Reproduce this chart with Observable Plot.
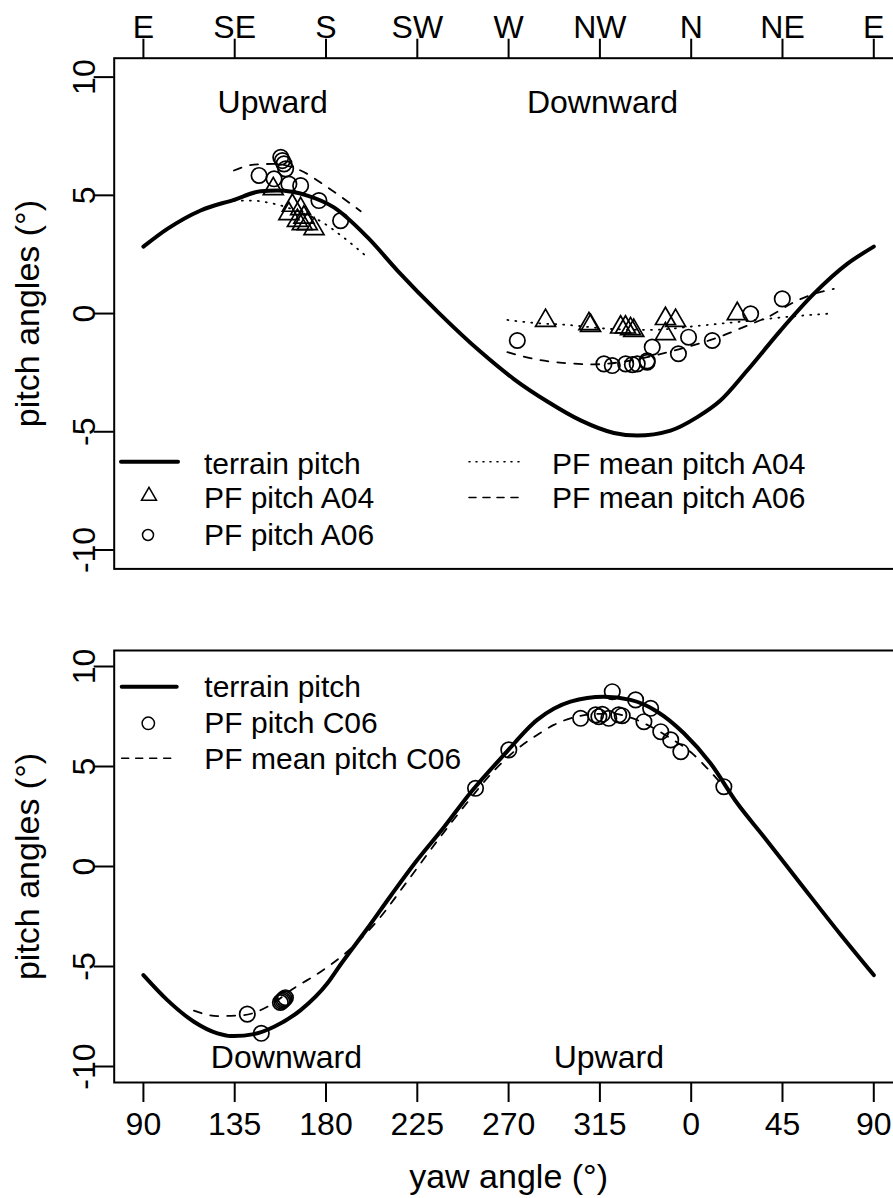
<!DOCTYPE html>
<html><head><meta charset="utf-8">
<script src="https://cdn.jsdelivr.net/npm/d3@7"></script>
<script src="https://cdn.jsdelivr.net/npm/@observablehq/plot@0.6"></script>
<style>
html,body{margin:0;padding:0;background:#fff;width:893px;height:1198px;overflow:hidden;}
#wrap{position:relative;width:893px;height:1198px;overflow:hidden;}
#wrap svg{position:absolute;left:0;display:block;max-width:none !important;}
</style></head><body><div id="wrap"></div>
<script>
// ---------- data ----------
const xTicks = [90, 135, 180, 225, 270, 315, 360, 405, 450];
const compassLabels = ["E", "SE", "S", "SW", "W", "NW", "N", "NE", "E"];
const yawLabels = ["90", "135", "180", "225", "270", "315", "0", "45", "90"];
const yTicks = [-10, -5, 0, 5, 10];
const yTitle = "pitch angles (°)";
const xTitle = "yaw angle (°)";

// top panel (A04 / A06)
const terrainTop = [[90,2.83],[101.8,3.58],[118.2,4.36],[134.6,4.81],[147.8,5.17],[156,5.2],[170.8,4.99],[183.9,4.49],[200.4,3.23],[215.2,1.82],[235.7,0.02],[256.2,-1.62],[272.6,-2.77],[289.1,-3.72],[305.5,-4.52],[321.9,-5.05],[333.4,-5.16],[349.8,-4.95],[363,-4.38],[374.4,-3.68],[387.6,-2.41],[404,-0.72],[420.4,0.83],[436.9,2.1],[450,2.83]];
const a04Points = [[154,5.27],[163.4,4.57],[161.7,4.22],[167.5,4.43],[165.9,3.93],[169.1,4.07],[170.8,3.79],[174.1,3.58],[168.3,3.79],
  [288.2,-0.3],[309.6,-0.44],[310.4,-0.51],[325.2,-0.58],[327.6,-0.58],[330.1,-0.65],[331.7,-0.72],[347.3,-0.22],[352.3,-0.3],[347.3,-0.86],[382.7,-0.01]];
const a06Points = [[147,5.84],[154.4,5.7],[157.7,6.61],[158.5,6.47],[159.3,6.33],[160.1,6.12],[161.7,5.48],[167.5,5.41],[176.5,4.78],[187.2,3.93],
  [274.3,-1.14],[317,-2.13],[321.1,-2.2],[327.7,-2.13],[331,-2.16],[333.4,-2.13],[338.3,-2.06],[338.3,-2.0],[340.8,-1.42],[358.7,-1.0],[353.7,-1.7],[370.4,-1.14],[389.3,-0.01],[404.9,0.62]];
const a04MeanUp = [[134.6,4.77],[142.9,4.78],[154.4,4.64],[167.5,4.28],[177,3.92],[188,3.26],[200.4,2.38]];
const a04MeanDown = [[269.4,-0.27],[283,-0.4],[298.9,-0.48],[320.3,-0.65],[340,-0.69],[364.6,-0.51],[389.3,-0.3],[410,-0.12],[430.3,0.01]];
const a06MeanUp = [[134.6,6.05],[144.5,6.3],[154.4,6.33],[167.5,6.05],[180.7,5.34],[197.1,4.33]];
const a06MeanDown = [[269.4,-1.63],[282.5,-1.92],[298.9,-2.1],[312,-2.15],[328,-2.02],[341.6,-1.78],[354.8,-1.49],[371.2,-1.07],[387.6,-0.51],[397.5,-0.16],[412.3,0.55],[420.4,0.83],[430.3,1.04]];
const annotTop = [[153.7,8.9,"Upward"],[316.3,8.9,"Downward"]];

// bottom panel (C06)
const terrainBottom = [[90,-5.43],[101.8,-6.68],[114.9,-7.76],[126.5,-8.34],[134.6,-8.48],[144.5,-8.38],[154.4,-8.01],[167.5,-7.18],[180.7,-5.84],[187.2,-4.9],[200,-3.15],[212,-1.45],[224,0.2],[238,1.95],[251.3,3.7],[267.7,5.58],[284.1,7.33],[300.5,8.24],[316.9,8.49],[330.1,8.33],[343.3,7.74],[356.4,6.66],[369.5,5.16],[382.7,3.16],[395.8,1.49],[413.9,-0.86],[433.6,-3.4],[450,-5.43]];
const c06Points = [[141.2,-7.38],[148.1,-8.34],[157.5,-6.8],[158.2,-6.74],[158.8,-6.68],[159.4,-6.62],[160,-6.56],
  [253.7,3.91],[270.1,5.83],[305.5,7.41],[312.9,7.58],[314.5,7.49],[316.2,7.61],[319.4,7.41],[324.3,7.58],[326,7.54],[321.1,8.74],[332.6,8.33],[340,7.91],[336.7,7.24],[345,6.74],[349.9,6.33],[354.9,5.74],[376.1,3.99]];
const c06Mean = [[114.9,-7.21],[126.5,-7.48],[139.6,-7.43],[151.1,-7.01],[164.2,-6.09],[177.4,-5.26],[190,-4.3],[205,-2.75],[220,-0.75],[235,1.3],[250,3.25],[262,4.7],[272.6,5.74],[284.1,6.58],[292.3,7.08],[300.5,7.41],[310,7.6],[320,7.65],[330,7.45],[340,7.0],[349.8,6.41],[360,5.7],[368,4.9],[376,4.0]];
const annotBottom = [[160.5,-9.58,"Downward"],[319.4,-9.58,"Upward"]];

const legendTopLabels = ["terrain pitch", "PF pitch A04", "PF pitch A06", "PF mean pitch A04", "PF mean pitch A06"];
const legendBottomLabels = ["terrain pitch", "PF pitch C06", "PF mean pitch C06"];

// ---------- layout / style ----------
const FONT = '"Liberation Sans", Arial, Helvetica, sans-serif';
const W = 920, ML = 113.7, MR = W - 902.5;
const xDomain = [75.6, 464.4];
const yDomain = [-10.8, 10.8];
const DASH = "8,9", DOT = "1,7";
const CURVE = "monotone-x";
const X = d => d[0], Y = d => d[1];

function commonMarks() {
  return [
    Plot.frame({strokeWidth: 2}),
    Plot.axisY({ticks: yTicks, tickSize: 20, strokeWidth: 2, fill: "none", label: null}),
    Plot.text(yTicks, {y: d => d, text: d => String(d), frameAnchor: "left", dx: -19.7, rotate: -90, textAnchor: "middle", lineAnchor: "bottom", fontSize: 32}),
    Plot.text([yTitle], {frameAnchor: "left", dx: -75.7, rotate: -90, textAnchor: "middle", lineAnchor: "bottom", fontSize: 34})
  ];
}

const style = {fontFamily: FONT, color: "#000", background: "transparent", overflow: "visible", maxWidth: "none"};

const p1 = Plot.plot({
  width: W, height: 600, marginLeft: ML, marginRight: MR, marginTop: 57.7, marginBottom: 31.6,
  x: {domain: xDomain}, y: {domain: yDomain}, style,
  marks: [
    ...commonMarks(),
    Plot.axisX({anchor: "top", ticks: xTicks, tickFormat: d => compassLabels[xTicks.indexOf(d)], tickSize: 20, tickPadding: 0, fontSize: 32, strokeWidth: 2, label: null}),
    Plot.line(terrainTop, {x: X, y: Y, strokeWidth: 4, curve: CURVE}),
    Plot.line(a04MeanUp, {x: X, y: Y, strokeWidth: 1.8, strokeDasharray: DOT, curve: CURVE}),
    Plot.line(a04MeanDown, {x: X, y: Y, strokeWidth: 1.8, strokeDasharray: DOT, curve: CURVE}),
    Plot.line(a06MeanUp, {x: X, y: Y, strokeWidth: 1.8, strokeDasharray: DASH, curve: CURVE}),
    Plot.line(a06MeanDown, {x: X, y: Y, strokeWidth: 1.8, strokeDasharray: DASH, curve: CURVE}),
    Plot.dot(a04Points, {x: X, y: Y, symbol: "triangle", r: 7.4, fill: "none", stroke: "#000", strokeWidth: 1.7}),
    Plot.dot(a06Points, {x: X, y: Y, symbol: "circle", r: 7.7, fill: "none", stroke: "#000", strokeWidth: 1.7}),
    Plot.text(annotTop, {x: X, y: Y, text: d => d[2], fontSize: 32, lineAnchor: "middle"})
  ]
});

const p2 = Plot.plot({
  width: W, height: 598, marginLeft: ML, marginRight: MR, marginTop: 50, marginBottom: 116,
  x: {domain: xDomain}, y: {domain: yDomain}, style,
  marks: [
    ...commonMarks(),
    Plot.axisX({anchor: "bottom", ticks: xTicks, tickFormat: d => yawLabels[xTicks.indexOf(d)], tickSize: 20, tickPadding: 10, fontSize: 32, strokeWidth: 2, label: null}),
    Plot.text([xTitle], {frameAnchor: "bottom", dy: 105, lineAnchor: "bottom", fontSize: 34}),
    Plot.line(terrainBottom, {x: X, y: Y, strokeWidth: 4, curve: CURVE}),
    Plot.line(c06Mean, {x: X, y: Y, strokeWidth: 1.8, strokeDasharray: DASH, curve: CURVE}),
    Plot.dot(c06Points, {x: X, y: Y, symbol: "circle", r: 7.7, fill: "none", stroke: "#000", strokeWidth: 1.7}),
    Plot.text(annotBottom, {x: X, y: Y, text: d => d[2], fontSize: 32, lineAnchor: "middle"})
  ]
});

const wrap = document.getElementById("wrap");
for (const p of [p1, p2]) { p.style.maxWidth = "none"; p.setAttribute("width", W); }
p1.style.top = "0px";
p2.style.top = "600px";
wrap.appendChild(p1);
wrap.appendChild(p2);

// ---------- legends (overlay) ----------
const leg = d3.create("svg").attr("width", 893).attr("height", 1198)
  .style("top", "0px").style("pointer-events", "none")
  .attr("font-family", FONT).attr("font-size", 30);

function legLine(x1, x2, y, w, dash) {
  leg.append("line").attr("x1", x1).attr("x2", x2).attr("y1", y).attr("y2", y)
    .attr("stroke", "#000").attr("stroke-width", w).attr("stroke-linecap", "round")
    .attr("stroke-dasharray", dash || null);
}
function legText(x, y, t) { leg.append("text").attr("x", x).attr("y", y).text(t); }
function legCircle(x, y, r) {
  leg.append("circle").attr("cx", x).attr("cy", y).attr("r", r).attr("fill", "none").attr("stroke", "#000").attr("stroke-width", 1.5);
}
function legTri(x, y, s) {
  const h = s * Math.sqrt(3) / 2;
  leg.append("path").attr("d", `M${x},${y - 2 * h / 3}L${x + s / 2},${y + h / 3}L${x - s / 2},${y + h / 3}Z`)
    .attr("fill", "none").attr("stroke", "#000").attr("stroke-width", 1.5);
}

// top legend
legLine(121, 178, 461.7, 4);
legText(204, 473.7, legendTopLabels[0]);
legTri(149, 496, 15);
legText(204, 508.3, legendTopLabels[1]);
legCircle(148, 535, 5.5);
legText(204, 545.3, legendTopLabels[2]);
legLine(469, 520, 461.7, 1.6, "1,6");
legText(552, 473.7, legendTopLabels[3]);
legLine(469, 520, 497.5, 1.6, "7,7");
legText(552, 508.3, legendTopLabels[4]);

// bottom legend
legLine(121.7, 176.7, 686.7, 4);
legText(204.3, 696.7, legendBottomLabels[0]);
legCircle(148.3, 723.3, 6.2);
legText(204.3, 733.3, legendBottomLabels[1]);
legLine(121.7, 176.7, 758.3, 1.6, "7,7");
legText(204.3, 769.3, legendBottomLabels[2]);

wrap.appendChild(leg.node());
</script></body></html>
